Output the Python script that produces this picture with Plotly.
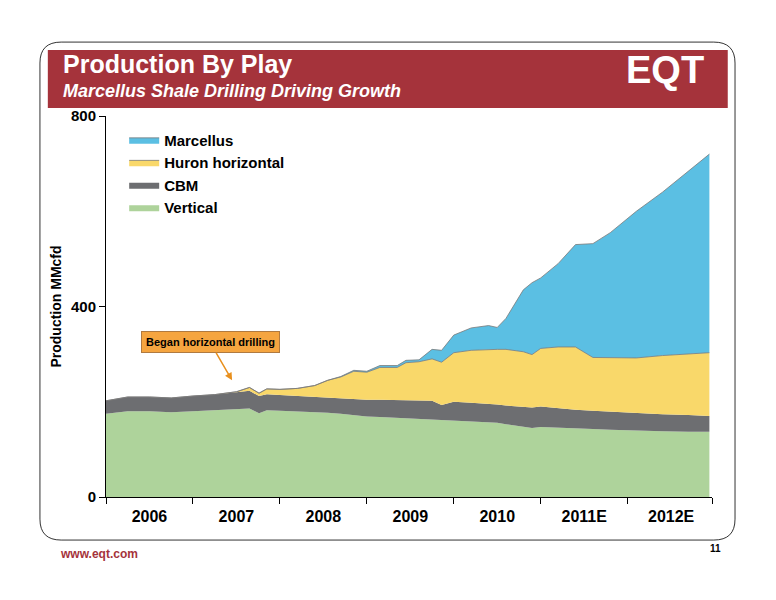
import plotly.graph_objects as go

t = [2006.0, 2006.25, 2006.5, 2006.75, 2007.0, 2007.25, 2007.5, 2007.65, 2007.76, 2007.85,
     2008.0, 2008.2, 2008.4, 2008.55, 2008.7, 2008.85, 2009.0, 2009.15, 2009.35, 2009.45,
     2009.6, 2009.75, 2009.86, 2010.0, 2010.2, 2010.4, 2010.5, 2010.6, 2010.8, 2010.9,
     2011.0, 2011.2, 2011.4, 2011.6, 2011.8, 2012.1, 2012.4, 2012.7, 2012.94]
vertical_top = [175, 180, 180, 178, 180, 182, 185, 186, 176, 182,
                181, 180, 179, 177, 175, 172, 169, 168, 166, 165,
                164, 163, 162, 161, 159, 157, 156, 153, 148, 145,
                147, 146, 144, 143, 141, 139, 138, 137, 137]
cbm_top = [202, 210, 210, 208, 212, 215, 220, 223, 212, 216,
           214, 212, 210, 208, 206, 205, 204, 204, 203, 203,
           202, 202, 193, 200, 198, 196, 194, 192, 190, 188,
           190, 186, 183, 181, 179, 177, 174, 172, 170]
huron_top = [202, 210, 210, 208, 212, 215, 221, 230, 218, 227,
             226, 228, 234, 245, 252, 264, 262, 272, 272, 282,
             284, 290, 283, 303, 308, 310, 310, 310, 305, 299,
             312, 315, 315, 293, 292, 292, 297, 300, 303]
marcellus_top = [202, 210, 210, 208, 212, 215, 221, 230, 218, 227,
                 226, 228, 234, 245, 253, 266, 264, 276, 276, 287,
                 288, 310, 308, 340, 355, 360, 356, 375, 435, 450,
                 460, 490, 530, 532, 555, 600, 640, 685, 720]

vertical = vertical_top
cbm = [c - v for c, v in zip(cbm_top, vertical_top)]
huron = [h - c for h, c in zip(huron_top, cbm_top)]
marcellus = [m - h for m, h in zip(marcellus_top, huron_top)]

year_labels = ["2006", "2007", "2008", "2009", "2010", "2011E", "2012E"]
year_bounds = [2006, 2007, 2008, 2009, 2010, 2011, 2012]
y_ticks = [0, 400, 800]

fig = go.Figure()
series = [("Vertical", vertical, "#AED39B", "rgba(0,0,0,0)"),
          ("CBM", cbm, "#6D6E71", "rgba(0,0,0,0)"),
          ("Huron horizontal", huron, "#F9D86A", "#7a7a7a"),
          ("Marcellus", marcellus, "#5BBFE3", "#7a7a7a")]
for name, vals, col, lc in series:
    fig.add_trace(go.Scatter(x=t, y=vals, name="<b>%s</b>" % name, stackgroup="one", mode="lines",
                             line=dict(width=0.8, color=lc), fillcolor=col))

mids = [b + 0.5 for b in year_bounds]
fig.add_trace(go.Scatter(x=mids, y=[None]*len(mids), xaxis="x2", showlegend=False, hoverinfo="skip"))

x0, x1, y0, y1, rx, ry = -0.109, 1.038, -0.113, 1.194, 0.035, 0.055
frame = (f"M {x0+rx},{y1} L {x1-rx},{y1} Q {x1},{y1} {x1},{y1-ry} L {x1},{y0+ry} "
         f"Q {x1},{y0} {x1-rx},{y0} L {x0+rx},{y0} Q {x0},{y0} {x0},{y0+ry} "
         f"L {x0},{y1-ry} Q {x0},{y1} {x0+rx},{y1} Z")

fig.update_layout(
    width=776, height=600, paper_bgcolor="white", plot_bgcolor="white",
    margin=dict(l=98, r=72, t=108, b=111, autoexpand=False),
    font=dict(family="Liberation Sans, Arial", color="black"),
    xaxis=dict(range=[2006, 2012.97], tickvals=year_bounds + [2012.97], ticktext=[""]*8,
               ticks="outside", ticklen=6, tickcolor="black", showline=True, linecolor="black",
               showgrid=False, zeroline=False, automargin=False),
    xaxis2=dict(range=[2006, 2012.97], overlaying="x", side="bottom", tickvals=mids,
                ticktext=["<b>%s</b>" % s for s in year_labels], showgrid=False, showline=False, ticks="",
                tickfont=dict(size=16), ticklabelstandoff=8, automargin=False),
    yaxis=dict(range=[0, 800], tickvals=y_ticks, ticktext=["<b>%d</b>" % v for v in y_ticks],
               ticks="outside", ticklen=6, tickcolor="black", showline=True, linecolor="black",
               showgrid=False, zeroline=False, tickfont=dict(size=15), automargin=False,
               title=dict(text="<b>Production MMcfd</b>", font=dict(size=14), standoff=6)),
    legend=dict(x=0.03, y=0.98, xanchor="left", yanchor="top", traceorder="reversed",
                font=dict(size=15), bgcolor="rgba(0,0,0,0)", itemwidth=30, tracegroupgap=0),
    shapes=[
        dict(type="path", xref="paper", yref="paper", path=frame,
             line=dict(color="#333", width=1), layer="below"),
        dict(type="rect", xref="paper", yref="paper", x0=-0.096, x1=1.026, y0=1.021, y1=1.173,
             fillcolor="#A5333B", line=dict(width=0)),
    ],
    annotations=[
        dict(xref="paper", yref="paper", x=-0.075, y=1.178, xanchor="left", yanchor="top",
             text="<b>Production By Play</b>", showarrow=False,
             font=dict(size=25, color="white")),
        dict(xref="paper", yref="paper", x=-0.075, y=1.098, xanchor="left", yanchor="top",
             text="<b><i>Marcellus Shale Drilling Driving Growth</i></b>", showarrow=False,
             font=dict(size=18, color="white")),
        dict(xref="paper", yref="paper", x=0.99, y=1.18, xanchor="right", yanchor="top",
             text="<b>EQT</b>", showarrow=False, font=dict(size=38, color="white")),
        dict(x=2007.45, y=245, xref="x", yref="y", text="<b>Began horizontal drilling</b>",
             showarrow=True, arrowhead=2, arrowcolor="#E8901E", arrowwidth=1.5, ax=-22, ay=-38,
             bgcolor="#F5A540", bordercolor="#B07A40", borderwidth=1, borderpad=4,
             font=dict(size=11, color="black")),
        dict(xref="paper", yref="paper", x=-0.08, y=-0.125, xanchor="left", yanchor="top",
             text="<b>www.eqt.com</b>", showarrow=False, font=dict(size=12, color="#A5333B")),
        dict(xref="paper", yref="paper", x=1.018, y=-0.115, xanchor="right", yanchor="top",
             text="<b>11</b>", showarrow=False, font=dict(size=10)),
    ],
)
fig.write_html("out.html")
